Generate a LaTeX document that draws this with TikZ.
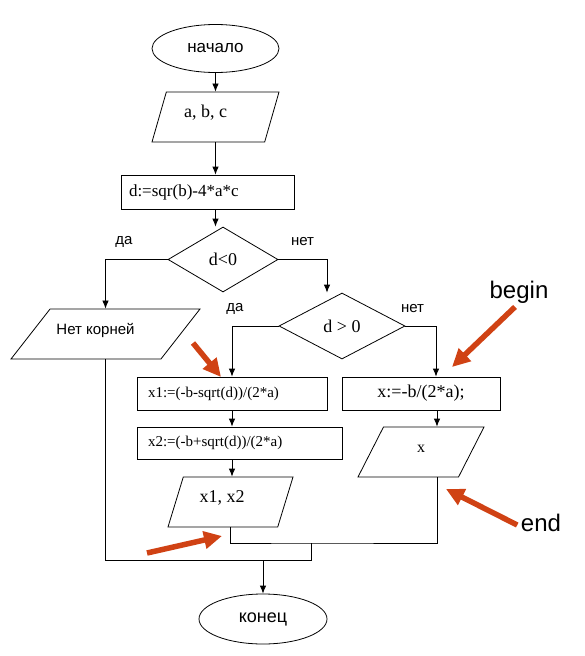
\documentclass[tikz,border=0pt]{standalone}
\usepackage{fontspec}
\setmainfont{Liberation Serif}
\newfontfamily\arialfont{Liberation Sans}
\usetikzlibrary{arrows.meta,shapes.geometric}
\definecolor{pointer}{RGB}{208,66,20}

\begin{document}
\begin{tikzpicture}[x=1pt,y=-1pt,>={Latex[length=8pt,width=6.5pt]},line width=0.8pt,
  term/.style={ellipse,draw,minimum width=127,minimum height=48,font=\arialfont\fontsize{17}{19}\selectfont},
  io/.style={trapezium,draw,trapezium stretches body,inner ysep=0pt,text height=25,text depth=25,font=\fontsize{18}{20}\selectfont},
  proc/.style={rectangle,draw,inner ysep=0pt,font=\fontsize{#1}{#1}\selectfont},
  test/.style={diamond,draw,inner sep=0pt,font=\fontsize{18}{20}\selectfont},
  branch/.style={font=\arialfont\fontsize{15}{17}\selectfont},
  note/.style={font=\arialfont\fontsize{24}{26}\selectfont},
  pointer/.style={draw=pointer,line width=5.5pt,-{Triangle[length=18pt,width=17pt]}}]
 \useasboundingbox (0,0) rectangle (584,656);

 % main column
 \node[term]                       (start) at (215.5,48.5) {начало};
 \node[io,trapezium left angle=74,trapezium right angle=106,minimum width=127]
                                   (abc)   at (215.5,117)  {a, b, c\kern20pt};
 \node[proc=17,text width=157,inner xsep=8,minimum height=34,align=left]
                                   (disc)  at (207.5,192)  {d:=sqr(b)-4*a*c};
 \node[test,minimum width=110,minimum height=65]
                                   (dlt)   at (223,259.5)  {d<0};
 \node[io,trapezium left angle=52,trapezium right angle=128,minimum width=189,inner xsep=2pt,font=\arialfont\fontsize{15}{17}\selectfont]
                                   (none)  at (105.5,334)  {Нет корней\kern20pt};
 \node[test,minimum width=126,minimum height=66]
                                   (dgt)   at (342,326)    {d > 0};
 \node[proc=15,text width=168,inner xsep=11,minimum height=33,align=left]
                                   (xa)    at (232,393.5)  {x1:=(-b-sqrt(d))/(2*a)};
 \node[proc=15,text width=183,inner xsep=11,minimum height=32,align=left]
                                   (xb)    at (239.5,443)  {x2:=(-b+sqrt(d))/(2*a)};
 \node[io,trapezium left angle=73,trapezium right angle=107,minimum width=125]
                                   (outab) at (230.5,502)  {x1, x2\kern17pt};
 \node[proc=18,minimum width=158,minimum height=33]
                                   (xs)    at (421,393.5)  {x:=-b/(2*a);};
 \node[io,trapezium left angle=63,trapezium right angle=117,minimum width=126,font=\fontsize{16}{18}\selectfont]
                                   (outx)  at (421,452)    {x};
 \node[term,minimum width=128,minimum height=50,font=\arialfont\fontsize{18}{20}\selectfont]
                                   (stop)  at (263,619)    {конец};

 % branch labels
 \node[branch] (yes1) at (124,242)   {да};
 \node[branch] (no1)  at (302.5,242) {нет};
 \node[branch] (yes2) at (235,309)   {да};
 \node[branch] (no2)  at (412.5,309) {нет};

 % flow
 \draw[->] (start) -- (abc);
 \draw[->] (abc.south) -- (abc.south |- disc.north);
 \draw[->] (abc.south |- disc.south) -- (abc.south |- dlt.north);
 \draw[->] (dlt.west) -| (none.north);
 \draw[->] (dlt.east) -| ([xshift=-15]dgt.north);
 \draw[->] (dgt.west) -| (xa.north);
 \draw[->] (dgt.east) -| ([xshift=15]xs.north);
 \draw[->] (xa.south) -- (xa.south |- xb.north);
 \draw[->] (xa.south |- xb.south) -- (xa.south |- outab.north);
 \draw[->] ([xshift=16]xs.south) -- ([xshift=16]xs.south |- outx.north);

 % merge
 \coordinate (m1) at (311,543);
 \coordinate (m2) at (311,560);
 \draw (outab.south) |- (m1) -| ([xshift=16]outx.south);
 \draw (none.south) |- (m2) -- (m1);
 \draw[->] (stop.north |- m2) -- (stop.north);

 % red pointers
 \node[note] (begin) at (519,292) {begin};
 \node[note] (end)   at (541,523) {end};
 \coordinate (p1) at (452,367);
 \coordinate (p2) at (446,489);
 \coordinate (q1) at (193,343);
 \coordinate (q2) at (221,377);
 \coordinate (r1) at (147,553);
 \coordinate (r2) at (222,536);
 \draw[pointer] ([xshift=-4]begin.south) -- (p1);
 \draw[pointer] ([yshift=-2]end.west) -- (p2);
 \draw[pointer] (q1) -- (q2);
 \draw[pointer] (r1) -- (r2);
\end{tikzpicture}
\end{document}
